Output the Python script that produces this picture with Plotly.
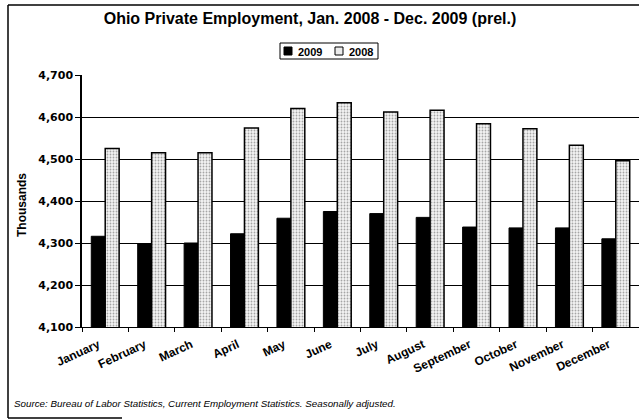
import plotly.graph_objects as go

months = ["January", "February", "March", "April", "May", "June", "July",
          "August", "September", "October", "November", "December"]
emp_2009 = [4316, 4298, 4300, 4322, 4359, 4375, 4370, 4361, 4338, 4336, 4336, 4310]
emp_2008 = [4525, 4515, 4515, 4574, 4620, 4634, 4612, 4616, 4584, 4572, 4533, 4496]
y_ticks = [4100, 4200, 4300, 4400, 4500, 4600, 4700]
series_names = ["2009", "2008"]

FONT = "Liberation Sans, Arial, sans-serif"
FONT_W = "DejaVu Sans, sans-serif"
FILL_08 = "#ececec"

fig = go.Figure()
fig.add_trace(go.Bar(
    x=months, y=emp_2009, name=series_names[0],
    marker=dict(color="black", line=dict(color="black", width=1)),
))
fig.add_trace(go.Bar(
    x=months, y=emp_2008, name=series_names[1],
    marker=dict(color=FILL_08,
                line=dict(color="black", width=1.5),
                pattern=dict(shape=".", fgcolor="#555555", bgcolor="#f4f4f4",
                             size=3, solidity=0.3)),
))

W, H = 639, 419
L, R, T, B = 82, 0, 75, 92
pw = W - L - R
ph = H - T - B

def px(x):
    return (x - L) / pw

def py(y):
    return (H - B - y) / ph

shapes = [
    # outer frame
    dict(type="line", xref="paper", yref="paper", x0=px(8), x1=px(700), y0=py(5), y1=py(5),
         line=dict(color="black", width=1.5)),
    dict(type="line", xref="paper", yref="paper", x0=px(8), x1=px(8), y0=py(5), y1=py(418),
         line=dict(color="black", width=1.5)),
    dict(type="line", xref="paper", yref="paper", x0=px(8), x1=px(122), y0=py(418), y1=py(418),
         line=dict(color="black", width=1.5)),
    # legend box
    dict(type="rect", xref="paper", yref="paper", x0=px(280), x1=px(378), y0=py(59), y1=py(43),
         line=dict(color="black", width=1), fillcolor="white"),
    dict(type="rect", xref="paper", yref="paper", x0=px(284), x1=px(292), y0=py(55), y1=py(47),
         line=dict(color="black", width=1), fillcolor="black"),
    dict(type="rect", xref="paper", yref="paper", x0=px(335), x1=px(343), y0=py(55), y1=py(47),
         line=dict(color="black", width=1), fillcolor=FILL_08),
]

annotations = [
    dict(text="<b>" + series_names[0] + "</b>", xref="paper", yref="paper",
         x=px(296), y=py(51.5), xanchor="left", yanchor="middle", showarrow=False,
         font=dict(size=11, family=FONT, color="black")),
    dict(text="<b>" + series_names[1] + "</b>", xref="paper", yref="paper",
         x=px(347), y=py(51.5), xanchor="left", yanchor="middle", showarrow=False,
         font=dict(size=11, family=FONT, color="black")),
    dict(text="<b>Thousands</b>", xref="paper", yref="paper", x=px(22), y=py(205),
         xanchor="center", yanchor="middle", textangle=-90, showarrow=False,
         font=dict(size=12, family=FONT, color="black")),
    dict(text="<i>Source: Bureau of Labor Statistics, Current Employment Statistics. Seasonally adjusted.</i>",
         xref="paper", yref="paper", x=px(12), y=py(403), xanchor="left", yanchor="middle",
         showarrow=False, font=dict(size=9.8, family=FONT, color="black")),
]

fig.update_layout(
    width=W, height=H,
    margin=dict(l=L, r=R, t=T, b=B, autoexpand=False),
    paper_bgcolor="white", plot_bgcolor="white",
    font=dict(family=FONT, color="black"),
    barmode="group", bargap=0.4, bargroupgap=0.0,
    showlegend=False,
    title=dict(text="<b>Ohio Private Employment, Jan. 2008 - Dec. 2009 (prel.)</b>",
               x=310 / W, xanchor="center", y=1 - 18 / H, yanchor="middle",
               font=dict(size=16, family=FONT, color="black")),
    xaxis=dict(
        type="category", tickson="boundaries", ticks="outside", ticklen=4,
        tickcolor="black", showline=True, linecolor="black", linewidth=1,
        showgrid=False, tickangle=-25, automargin=False,
        ticklabelstandoff=5, ticklabelshift=-7,
        tickfont=dict(size=12, family=FONT, color="black", weight="bold"),
        range=[-0.5, 11.5],
    ),
    yaxis=dict(
        range=[4100, 4700], tickvals=y_ticks, tickformat=",",
        ticks="outside", ticklen=5, tickcolor="black", automargin=False,
        showline=True, linecolor="black", linewidth=1.5,
        showgrid=True, gridcolor="black", gridwidth=1,
        zeroline=False,
        tickfont=dict(size=11, family=FONT_W, color="black", weight="bold"),
    ),
    shapes=shapes,
    annotations=annotations,
)

fig.write_html("out.html", config={"displayModeBar": False},
               post_script="document.body.style.margin='0';")
